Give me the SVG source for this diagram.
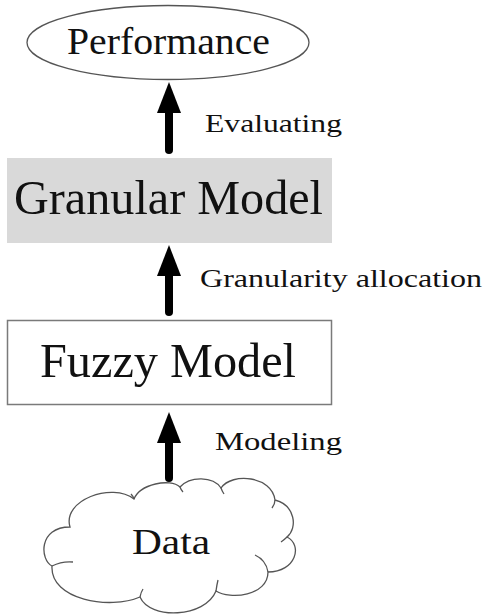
<svg xmlns="http://www.w3.org/2000/svg" width="486" height="615" viewBox="0 0 486 615">
  <style>
    text { font-family: "Liberation Serif", "Times New Roman", serif; fill: #111; }
    .big { font-size: 48px; }
    .lbl { font-size: 26px; }
    .outline { fill: #fff; stroke: #555; stroke-width: 1.3; }
    .shaft { stroke: #000; stroke-width: 8; stroke-linecap: round; fill: none; }
    .head { fill: #000; }
  </style>
  <rect width="486" height="615" fill="#fff"/>

  <!-- connectors: thick upward block arrows with labels -->
  <g id="connectors">
    <g id="evaluating">
      <line class="shaft" x1="169" y1="150" x2="169" y2="108"/>
      <polygon class="head" points="169,82 181,113 157,113"/>
      <text class="lbl" x="205" y="131.5" textLength="137" lengthAdjust="spacingAndGlyphs">Evaluating</text>
    </g>
    <g id="granularity-allocation">
      <line class="shaft" x1="169" y1="312" x2="169" y2="271"/>
      <polygon class="head" points="169,245 181,276 157,276"/>
      <text class="lbl" x="200" y="287" font-size="25" textLength="282" lengthAdjust="spacingAndGlyphs">Granularity allocation</text>
    </g>
    <g id="modeling">
      <line class="shaft" x1="169" y1="478" x2="169" y2="438"/>
      <polygon class="head" points="169,412 181,443 157,443"/>
      <text class="lbl" x="215" y="450" textLength="127" lengthAdjust="spacingAndGlyphs">Modeling</text>
    </g>
  </g>

  <!-- Performance ellipse -->
  <g id="performance">
    <ellipse class="outline" cx="168" cy="42.5" rx="141" ry="37"/>
    <text x="168.5" y="54" font-size="38" text-anchor="middle" textLength="203" lengthAdjust="spacingAndGlyphs">Performance</text>
  </g>

  <!-- Granular Model box -->
  <g id="granular-model">
    <rect x="7" y="158" width="325" height="85" fill="#d9d9d9"/>
    <text class="big" x="14" y="214" textLength="309" lengthAdjust="spacingAndGlyphs">Granular Model</text>
  </g>

  <!-- Fuzzy Model box -->
  <g id="fuzzy-model">
    <rect x="7.5" y="320.5" width="324" height="84" fill="#fff" stroke="#7a7a7a" stroke-width="1.5"/>
    <text class="big" x="40" y="377" textLength="256" lengthAdjust="spacingAndGlyphs">Fuzzy Model</text>
  </g>

  <!-- Data cloud -->
  <g id="data">
    <path class="outline" d="M70,527
      C62,500 112,482 134,499
      C140,484 170,478 180,487
      C190,476 213,476 221,488
      C232,472 272,476 275,500
      C295,505 298,528 287,537
      C303,545 296,572 268,572
      C268,596 230,600 216,591
      C205,618 150,620 140,597
      C110,610 50,600 52,566
      C40,560 38,527 70,527 Z"/>
    <path fill="none" stroke="#555" stroke-width="1.3" d="M52,566 Q62,561 73,562
      M134,499 Q133,496 131,494
      M180,487 Q181,490 183,492
      M221,488 Q222,491 224,494
      M275,500 Q275,504 272,508
      M287,537 Q284,540 281,542
      M255,555 Q266,560 268,572
      M216,591 Q217,584 218,580
      M140,597 Q141,592 143,589"/>
    <text x="171" y="554" font-size="35" text-anchor="middle" textLength="78" lengthAdjust="spacingAndGlyphs">Data</text>
  </g>
</svg>
